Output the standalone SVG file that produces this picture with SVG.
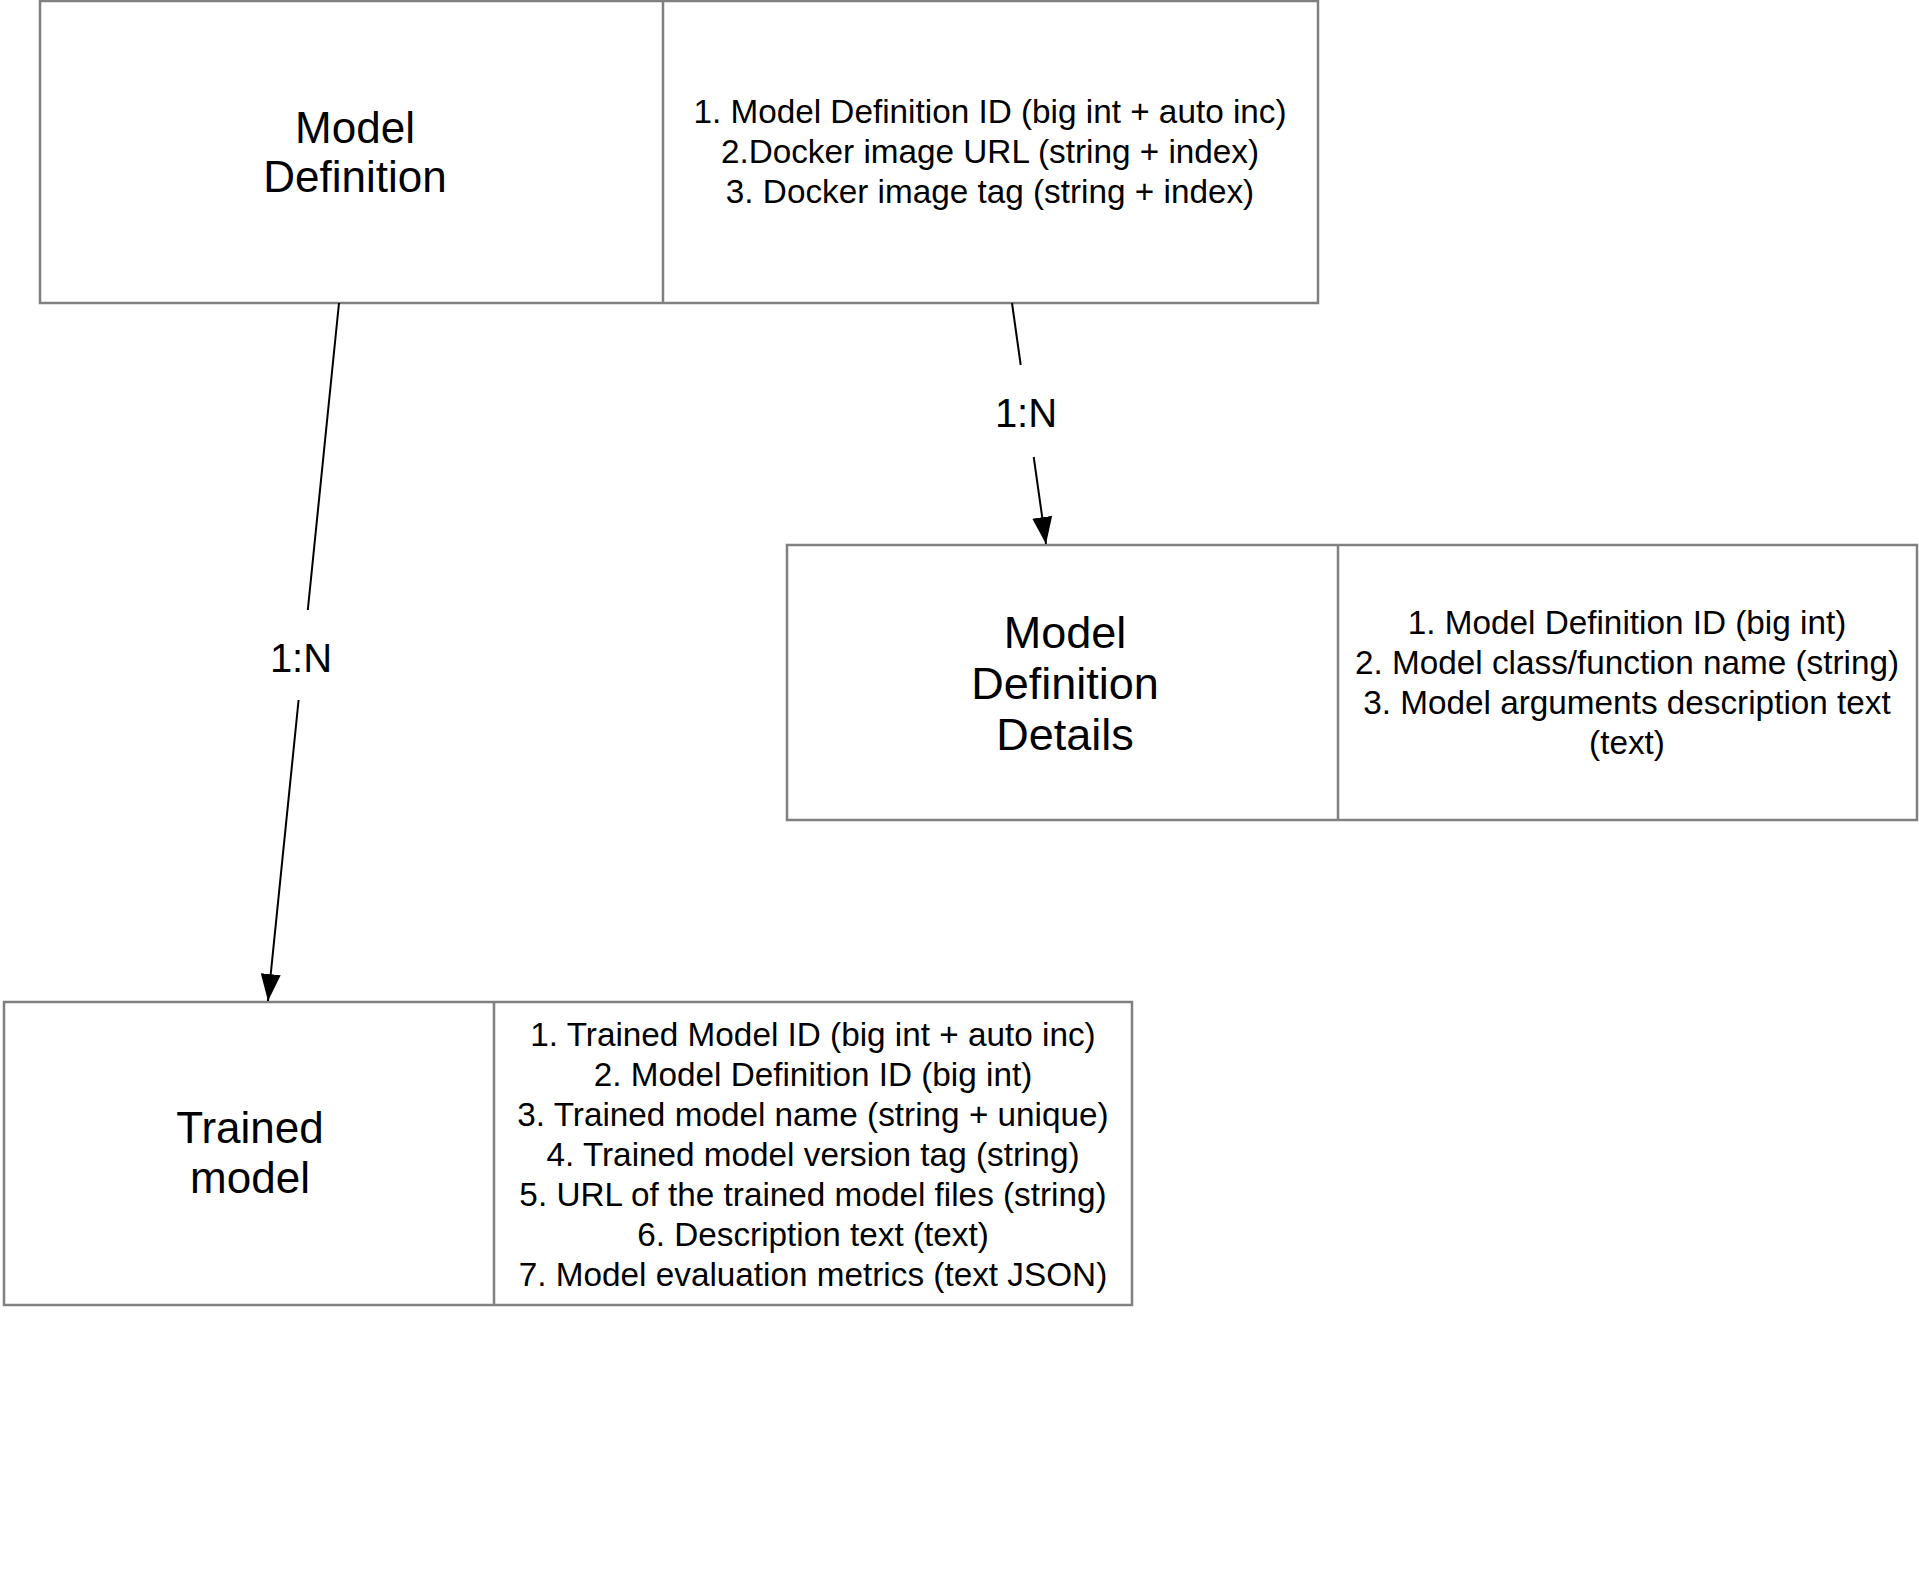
<svg xmlns="http://www.w3.org/2000/svg" width="1919" height="1569" viewBox="0 0 1919 1569">
<style>
.box{fill:#fff;stroke:#808080;stroke-width:2.5}
.div{stroke:#808080;stroke-width:2.5}
.title{font-family:"Liberation Sans",Arial,sans-serif;font-size:44px;fill:#000;text-anchor:middle}
.attr{font-family:"Liberation Sans",Arial,sans-serif;font-size:33.3px;fill:#000;text-anchor:middle}
.lbl{font-family:"Liberation Sans",Arial,sans-serif;font-size:40px;fill:#000;text-anchor:middle}
.edge{stroke:#000;stroke-width:2;fill:none}
</style>
<defs>
<marker id="arrow" markerUnits="userSpaceOnUse" markerWidth="28" markerHeight="22" refX="27" refY="10" orient="auto">
<path d="M0,0 L27,10 L0,20 z" fill="#000"/>
</marker>
</defs>
<rect width="1919" height="1569" fill="#fff"/>
<g id="model-definition">
<rect class="box" x="40" y="1" width="1278" height="302"/>
<line class="div" x1="663" y1="1" x2="663" y2="303"/>
<text class="title" x="355" y="143">Model</text>
<text class="title" x="355" y="192">Definition</text>
<text class="attr" x="990" y="123">1. Model Definition ID (big int + auto inc)</text>
<text class="attr" x="990" y="163">2.Docker image URL (string + index)</text>
<text class="attr" x="990" y="203">3. Docker image tag (string + index)</text>
</g>
<g id="model-definition-details">
<rect class="box" x="787" y="545" width="1130" height="275"/>
<line class="div" x1="1338" y1="545" x2="1338" y2="820"/>
<text class="title" x="1065" y="648" style="font-size:45px">Model</text>
<text class="title" x="1065" y="699" style="font-size:45px">Definition</text>
<text class="title" x="1065" y="750" style="font-size:45px">Details</text>
<text class="attr" x="1627" y="634">1. Model Definition ID (big int)</text>
<text class="attr" x="1627" y="674">2. Model class/function name (string)</text>
<text class="attr" x="1627" y="714">3. Model arguments description text</text>
<text class="attr" x="1627" y="754">(text)</text>
</g>
<g id="trained-model">
<rect class="box" x="4" y="1002" width="1128" height="303"/>
<line class="div" x1="494" y1="1002" x2="494" y2="1305"/>
<text class="title" x="250" y="1143">Trained</text>
<text class="title" x="250" y="1193">model</text>
<text class="attr" x="813" y="1046">1. Trained Model ID (big int + auto inc)</text>
<text class="attr" x="813" y="1086">2. Model Definition ID (big int)</text>
<text class="attr" x="813" y="1126">3. Trained model name (string + unique)</text>
<text class="attr" x="813" y="1166">4. Trained model version tag (string)</text>
<text class="attr" x="813" y="1206">5. URL of the trained model files (string)</text>
<text class="attr" x="813" y="1246">6. Description text (text)</text>
<text class="attr" x="813" y="1286">7. Model evaluation metrics (text JSON)</text>
</g>
<g id="connectors">
<g id="edge-def-trained">
<line class="edge" x1="339" y1="303" x2="307.8" y2="610"/>
<line class="edge" x1="298.6" y1="700" x2="268" y2="1001" marker-end="url(#arrow)"/>
<text class="lbl" x="301" y="672">1:N</text>
</g>
<g id="edge-def-details">
<line class="edge" x1="1012" y1="303" x2="1020.7" y2="365"/>
<line class="edge" x1="1033.7" y1="457" x2="1046" y2="544" marker-end="url(#arrow)"/>
<text class="lbl" x="1026" y="427">1:N</text>
</g>
</g>
</svg>
